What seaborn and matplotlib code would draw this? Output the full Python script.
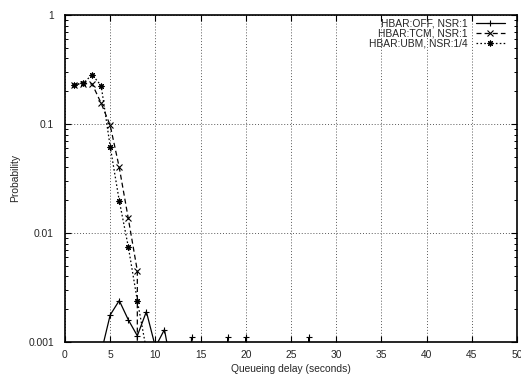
import matplotlib
matplotlib.use("Agg")
import matplotlib.pyplot as plt
import matplotlib.ticker as mticker
import numpy as np
import pandas as pd
import seaborn as sns

# ---- data ----
delay = [1, 2, 3, 4, 5, 6, 7, 8, 9, 10, 11, 12, 13, 14, 15, 16, 17, 18, 19, 20,
         21, 22, 23, 24, 25, 26, 27, 28, 29, 30]
hbar_off = [0, 0, 0, 0.0008, 0.00177, 0.0024, 0.0016, 0.00114, 0.0019, 0.0009,
            0.0013, 0.00047, 0, 0.0011, 0, 0, 0, 0.0011, 0, 0.0011,
            0, 0, 0, 0, 0, 0, 0.0011, 0, 0, 0]
hbar_tcm = [0.23, 0.235, 0.233, 0.155, 0.097, 0.040, 0.0136, 0.0045, 0, 0,
            0, 0, 0, 0, 0, 0, 0, 0, 0, 0,
            0, 0, 0, 0, 0, 0, 0, 0, 0, 0]
hbar_ubm = [0.23, 0.236, 0.283, 0.225, 0.062, 0.0198, 0.0075, 0.0024, 0.00085, 0,
            0, 0, 0, 0, 0, 0, 0, 0, 0, 0,
            0, 0, 0, 0, 0, 0, 0, 0, 0, 0]
series_labels = ["HBAR:OFF, NSR:1", "HBAR:TCM, NSR:1", "HBAR:UBM, NSR:1/4"]
x_ticks = [0, 5, 10, 15, 20, 25, 30, 35, 40, 45, 50]
y_ticks = [0.001, 0.01, 0.1, 1]
y_tick_labels = ["0.001", "0.01", "0.1", "1"]

df = pd.concat([
    pd.DataFrame({"delay": delay, "p": vals, "series": lab})
    for vals, lab in zip([hbar_off, hbar_tcm, hbar_ubm], series_labels)
], ignore_index=True)

sns.set_style("ticks")
plt.rcParams["font.family"] = ["Liberation Sans", "DejaVu Sans"]
FS = 7.4

fig = plt.figure(figsize=(5.21, 3.78), dpi=100)
ax = fig.add_axes([65 / 521, 1 - 342 / 378, (517 - 65) / 521, (342 - 15) / 378])

marker_map = dict(zip(series_labels, ["+", "x", (8, 2, 0)]))
dash_map = dict(zip(series_labels, ["", (4, 2.5), (1.3, 1.8)]))

sns.lineplot(data=df, x="delay", y="p", style="series", style_order=series_labels,
             markers=marker_map, dashes=dash_map, color="black", linewidth=0.9,
             markersize=4.2, markeredgewidth=0.8, markeredgecolor="black",
             estimator=None, sort=True, ax=ax)

ax.set_yscale("log", nonpositive="clip")
ax.set_xlim(0, 50)
ax.set_ylim(0.001, 1)
ax.set_xticks(x_ticks)
ax.set_xticklabels([str(t) for t in x_ticks], fontsize=FS)
ax.set_yticks(y_ticks)
ax.set_yticklabels(y_tick_labels, fontsize=FS)
ax.yaxis.set_minor_locator(mticker.LogLocator(base=10, subs=np.arange(2, 10)))
ax.yaxis.set_minor_formatter(mticker.NullFormatter())

ax.tick_params(which="both", direction="in", top=True, right=True, color="black")
ax.tick_params(which="major", length=4.5, width=0.8, pad=8)
ax.tick_params(axis="x", which="major", pad=6)
ax.tick_params(which="minor", length=2.5, width=0.7)

ax.grid(True, which="major", color="0.35", linestyle=(0, (1, 2)), linewidth=0.7)
ax.set_axisbelow(True)
for s in ax.spines.values():
    s.set_linewidth(1.2)
    s.set_color("black")

ax.set_xlabel("Queueing delay (seconds)", fontsize=FS, labelpad=2.5)
ax.set_ylabel("Probability", fontsize=FS, labelpad=5.5)

handles, labels = ax.get_legend_handles_labels()
pairs = [(h, l) for h, l in zip(handles, labels) if l in series_labels]
leg = ax.legend([h for h, _ in pairs], [l for _, l in pairs], loc="upper right",
                bbox_to_anchor=(0.973, 0.988),
                frameon=False, markerfirst=False, fontsize=FS,
                handlelength=2.8, handletextpad=0.8, labelspacing=0.0,
                borderpad=0.0, borderaxespad=0.0)

fig.savefig("out.png", dpi=100)
